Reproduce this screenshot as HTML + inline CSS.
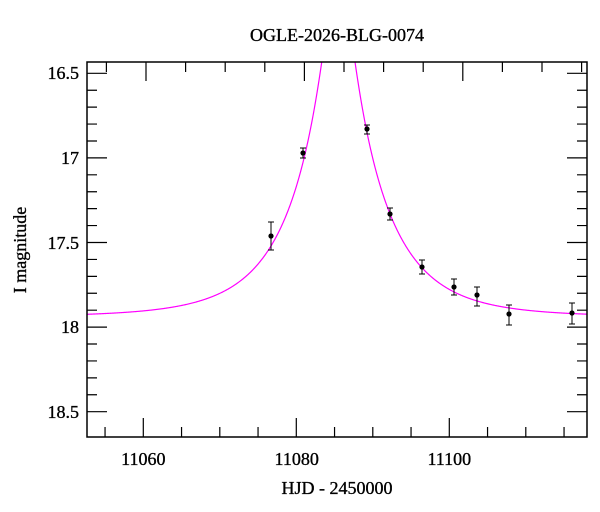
<!DOCTYPE html>
<html><head><meta charset="utf-8"><style>
html,body{margin:0;padding:0;background:#fff}
svg{display:block}
text{font-family:"Liberation Serif",serif;fill:#000;stroke:#000;stroke-width:0.35}
</style></head><body>
<svg id="s" width="600" height="512" viewBox="0 0 600 512">
<text x="337" y="41" font-size="18" text-anchor="middle">OGLE-2026-BLG-0074</text>
<text x="337" y="494" font-size="18" text-anchor="middle">HJD - 2450000</text>
<text transform="translate(26,250) rotate(-90)" font-size="18" text-anchor="middle">I magnitude</text>
<g font-size="18" text-anchor="middle">
<text x="143.3" y="465">11060</text><text x="296.7" y="465">11080</text><text x="449.3" y="465">11100</text>
</g>
<g font-size="18" text-anchor="end">
<text x="79" y="79">16.5</text><text x="79" y="164">17</text><text x="79" y="249">17.5</text><text x="79" y="333">18</text><text x="79" y="418">18.5</text>
</g>
<g id="ax" stroke="#000" stroke-width="1.2" fill="none"></g>
<clipPath id="c"><rect x="87" y="62" width="500" height="375"/></clipPath>
<path id="curve" clip-path="url(#c)" fill="none" stroke="#ff00ff" stroke-width="1.2"/>
<g id="pts"></g>
<rect x="87" y="62" width="500" height="375" fill="none" stroke="#000" stroke-width="1.5"/>
</svg>
<script>
var NS="http://www.w3.org/2000/svg";
function X(t){return 143.3+(t-11060)*7.65;}
function Y(m){return 73.3+(m-16.5)*169.2;}
var ax=document.getElementById('ax'),d="";
for(var t=11055;t<=11115;t+=5){var x=X(t),L=(t%20==0)?19:10;d+="M"+x+" 437V"+(437-L);}
for(var i=0;i<13;i++){var x=106.4+i*39.6;if(x>586)break;var L=((i-1)%4==0)?19:10;d+="M"+x+" 62V"+(62+L);}
for(var k=0;k<=21;k++){var m=16.4+k*0.1;var y=Y(m);if(y<62||y>437)continue;var maj=Math.abs(m*2-Math.round(m*2))<1e-6;var L=maj?20:10;d+="M87 "+y+"H"+(87+L)+"M587 "+y+"H"+(587-L);}
var p=document.createElementNS(NS,'path');p.setAttribute('d',d);ax.appendChild(p);
var t0=11085.5,tE=10.5,u0=0.15,base=17.94,cd="";
for(var x=87;x<=587;x+=0.5){var t=11060+(x-143.3)/7.65;var u=Math.sqrt(u0*u0+Math.pow((t-t0)/tE,2));var A=(u*u+2)/(u*Math.sqrt(u*u+4));var m=base-2.5*Math.log10(A);var y=Math.max(Y(m),30);cd+=(cd?"L":"M")+x.toFixed(1)+" "+y.toFixed(2);}
document.getElementById('curve').setAttribute('d',cd);
var pts=[[271,236,222,250],[303,153,148,158],[367,129,125,134],[390,214,208,220],[422,267,260,274],[454,287,279,295],[477,295,287,306],[509,314,305,325],[572,313,303,324]];
var g=document.getElementById('pts'),s="";
pts.forEach(function(a){s+='<path d="M'+a[0]+' '+a[2]+'V'+a[3]+'M'+(a[0]-3)+' '+a[2]+'h6M'+(a[0]-3)+' '+a[3]+'h6" stroke="#000" stroke-width="1"/><circle cx="'+a[0]+'" cy="'+a[1]+'" r="2.6" fill="#000"/>';});
g.innerHTML=s;
</script>
</body></html>
